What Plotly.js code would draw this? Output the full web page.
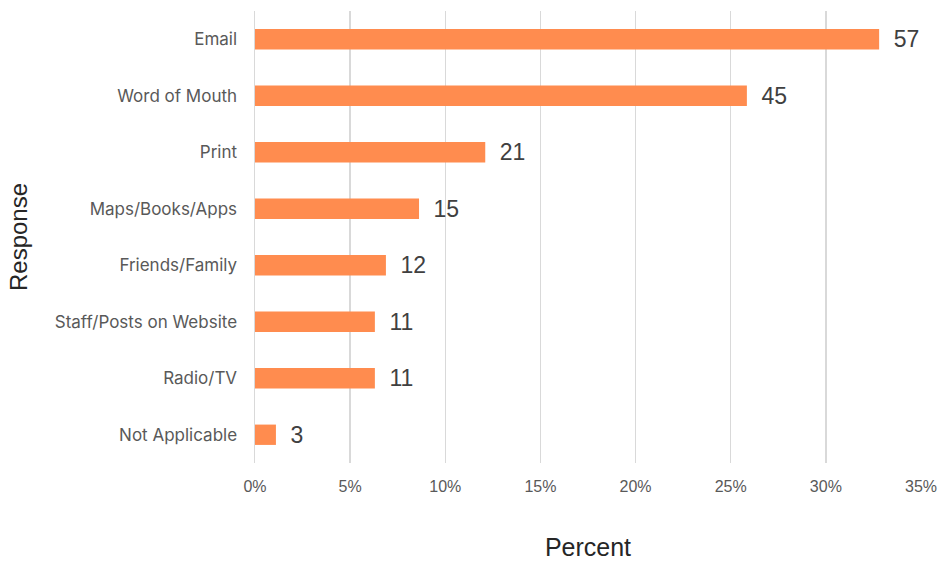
<!DOCTYPE html>
<html>
<head>
<meta charset="utf-8">
<script src="https://cdn.plot.ly/plotly-3.0.1.min.js"></script>
<style>html,body{margin:0;padding:0;background:#fff;}#chart{width:940px;height:561px;}</style>
</head>
<body>
<div id="chart"></div>
<script>
var categories = ["Email", "Word of Mouth", "Print", "Maps/Books/Apps", "Friends/Family", "Staff/Posts on Website", "Radio/TV", "Not Applicable"];
var percents = [32.8, 25.85, 12.1, 8.62, 6.88, 6.3, 6.3, 1.1];
var counts = [57, 45, 21, 15, 12, 11, 11, 3];
var xTickVals = [0, 5, 10, 15, 20, 25, 30, 35];
var xTickText = ["0%", "5%", "10%", "15%", "20%", "25%", "30%", "35%"];

var trace = {
  type: "bar",
  orientation: "h",
  y: categories,
  x: percents,
  text: counts.map(String),
  texttemplate: "\u2002%{text}",
  textposition: "outside",
  constraintext: "none",
  cliponaxis: false,
  textfont: {family: "Liberation Sans, Arial, sans-serif", size: 23, color: "#404040"},
  marker: {color: "#FF8C4F"},
  width: 0.36,
  hoverinfo: "none"
};

var layout = {
  width: 940,
  height: 561,
  margin: {l: 255, r: 19, t: 11, b: 98},
  paper_bgcolor: "#ffffff",
  plot_bgcolor: "#ffffff",
  showlegend: false,
  xaxis: {
    range: [0, 35],
    tickvals: xTickVals,
    ticktext: xTickText,
    showgrid: true,
    gridcolor: "#d9d9d9",
    gridwidth: 1.5,
    zeroline: false,
    showline: false,
    ticks: "",
    ticklabelstandoff: 12,
    tickfont: {family: "Liberation Sans Narrow, Arial Narrow, sans-serif", size: 16, color: "#595959"},
    title: {text: "\u2003\u2002Percent", font: {family: "Liberation Sans Narrow, Arial Narrow, sans-serif", size: 25, color: "#262626"}, standoff: 45}
  },
  yaxis: {
    type: "category",
    autorange: false,
    range: [7.5, -0.5],
    showgrid: false,
    zeroline: false,
    showline: true,
    linecolor: "#d9d9d9",
    linewidth: 1.5,
    ticks: "",
    ticklabelstandoff: 13,
    tickfont: {family: "Inter, Roboto, sans-serif", size: 17, color: "#595959"},
    title: {text: "Response", font: {family: "Liberation Sans, Arial, sans-serif", size: 24, color: "#262626"}, standoff: 20}
  }
};

Plotly.newPlot("chart", [trace], layout, {displayModeBar: false, staticPlot: true});
</script>
</body>
</html>
